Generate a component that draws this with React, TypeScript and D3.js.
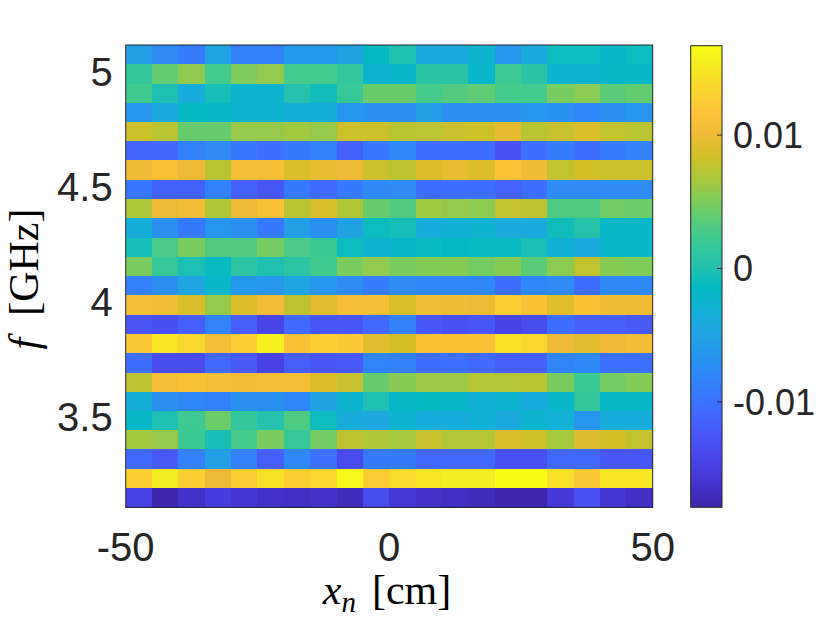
import * as d3 from "d3";

// x positions of the sensor columns (cm) and row frequencies (GHz, top to bottom)
const xCenters = [
  -47.5, -42.5, -37.5, -32.5, -27.5, -22.5, -17.5, -12.5, -7.5, -2.5,
  2.5, 7.5, 12.5, 17.5, 22.5, 27.5, 32.5, 37.5, 42.5, 47.5,
];
const freqs = [
  5.076, 4.992, 4.908, 4.824, 4.74, 4.657, 4.573, 4.489, 4.405, 4.321, 4.237, 4.153,
  4.069, 3.985, 3.901, 3.817, 3.733, 3.649, 3.566, 3.482, 3.398, 3.314, 3.23, 3.146,
];

// values in units of 1e-3, one row per frequency (top row first)
const UNIT = 1e-3;
const values = [
  [-5.5, -7.5, -9, -4.8, -8.5, -8.5, -6, -6, -5, -1.5, 0, -4, -4, -2.5, -6.5, -4, -1, -1, -2, -1],
  [1.5, 4, 5.7, 2.5, 5, 5.8, 2.5, 2.5, 1.5, -2.5, -2, 0.8, 0.8, -2, 2.2, 0.8, -2.5, -2.5, -1.8, -1.8],
  [2.3, 0, -3.8, -0.5, -2.5, -2.5, 0.3, -0.7, 1.8, 4.2, 4.2, 2.6, 3.3, 3.8, 2.6, 2.5, 4.8, 5.5, 3.6, 4],
  [-6.5, -4, -1.5, -2, -2.5, -2.5, -3.5, -3.5, -6.5, -7, -7, -5.5, -7, -7, -7, -6.5, -7, -8, -7, -6.5],
  [8.2, 7.4, 4.1, 4.1, 6, 6, 6.4, 6, 8.2, 8.2, 7.4, 7.5, 8, 8.3, 9.5, 7.4, 8, 8.8, 7.8, 7.4],
  [-11, -11, -8.5, -7.5, -9.5, -10.3, -9.2, -8.7, -11.5, -9.5, -8, -10.3, -10.3, -10.3, -13, -10.3, -9, -10.3, -9, -8.7],
  [10.3, 11.2, 10, 7.4, 10.8, 10.8, 8.8, 9.6, 10, 8.2, 7.6, 9, 9.6, 9, 11.5, 10.3, 7.8, 8.5, 8.2, 8.2],
  [-9.5, -11.5, -11.5, -8.5, -11.5, -12.5, -9.2, -10.7, -9.2, -7.8, -7.5, -10.3, -10.3, -10.3, -11.3, -10.3, -7.5, -7.5, -7.5, -7.5],
  [6.8, 10, 10.5, 7, 10, 11.3, 7.4, 8.8, 7, 4.1, 3.2, 6.3, 6, 5.6, 7.8, 7.6, 3, 3, 4.5, 4.3],
  [-3.5, -7, -9.2, -6.5, -7, -9.2, -5.5, -7, -5, -1, -0.5, -3.8, -3, -2.5, -4, -4, -0.7, 0.5, -1.8, -2],
  [-0.5, 2.8, 4.9, 3.1, 3.1, 4.7, 2.8, 2.1, -1, -2.5, -2, -1.2, -1.7, -1.2, -1.2, -0.3, -3, -4, -2, -2],
  [4.9, 1.7, -0.2, -1.2, 1, 0, 1, 2.3, 4.9, 5.8, 4.9, 5.3, 5.4, 4.7, 5.4, 3.6, 5.6, 7.8, 5.4, 5.1],
  [-8.7, -7, -4.7, -2, -6, -6.3, -4.7, -6.3, -7.5, -9, -7.5, -8, -8, -8, -10.3, -8, -7.5, -10.3, -7.8, -7.8],
  [10.8, 10.5, 8.8, 6, 9, 10.5, 7.6, 9.3, 10.8, 10.8, 8.8, 10.5, 10.3, 10, 12.8, 11.3, 9.2, 11.3, 10.3, 10.3],
  [-12.7, -13.2, -11.7, -8.3, -11.7, -14.3, -10.8, -12.6, -12.6, -10.8, -8.6, -12.6, -13.1, -12.6, -14.5, -13.5, -10.3, -11.7, -11.7, -12.2],
  [12.2, 14.8, 13.6, 10.8, 12.8, 15.6, 11.3, 12.8, 12.2, 9.3, 8.5, 11.3, 11.3, 11.3, 14.3, 13.5, 10, 9.3, 10.2, 10.7],
  [-10.3, -13.5, -13.5, -10.8, -12.2, -14.5, -11.7, -12.6, -12.3, -8.2, -8.6, -10.3, -10, -10.8, -11.7, -11.7, -8.2, -7.8, -10, -10],
  [7.6, 10.8, 11.3, 10.8, 10.5, 10.8, 10.8, 9, 8, 4.1, 5.4, 6.2, 6.2, 7.2, 7.2, 7.4, 4.9, 2.1, 4.7, 5.3],
  [-3.5, -7, -8, -8.7, -7, -7, -8, -5, -2.5, 0, -1.8, -1.3, -2, -3, -2.5, -3.7, -2, 1.5, -1.8, -1.8],
  [-1.8, 0, 2.2, 4.3, 1.5, 0.3, 3, -1, -3.8, -4.5, -2.5, -3.8, -3.8, -3, -4, -2.5, -3.2, -6.5, -3.8, -3.8],
  [6.4, 6, 2.1, -0.4, 2.6, 4.9, 1.7, 4.7, 7.6, 7, 6.6, 8, 7.2, 7.2, 8.8, 8.3, 6.6, 9.1, 8.5, 7.8],
  [-10.8, -12.2, -8.7, -5.5, -8.7, -11.7, -8, -10, -13.5, -9.2, -9.2, -10.8, -10.8, -10.8, -13.1, -13.1, -10.8, -10.8, -12.6, -12.6],
  [12.8, 15.2, 12.8, 10, 12.5, 14.3, 12.8, 13.5, 16.2, 12.5, 13.8, 14.8, 15.2, 15.2, 16.6, 16.6, 14.3, 12.2, 14.8, 14.8],
  [-14.5, -17.7, -16.3, -15, -15.7, -16.3, -16.6, -16.3, -17, -13.5, -15.5, -16.3, -16.6, -17, -17.7, -17.7, -15.5, -13.1, -15.7, -16.6],
];

const xTicks = [-50, 0, 50];
const fTicks = [3.5, 4, 4.5, 5];
const cTicks = [-0.01, 0, 0.01];
const xDomain = [-50, 50];
const fDomain = [3.104, 5.118];
const cDomain = [-17.9, 16.7];

// parula (MATLAB) anchors
const parula = [
  "#3e26a8", "#4332cb", "#4741e5", "#4852f4", "#4563fd", "#3875fe", "#2e87f7", "#2796eb",
  "#20a5e3", "#12b1d6", "#02bac3", "#24c1ae", "#37c897", "#57cc7a", "#81cc59", "#abc739",
  "#d1bf27", "#f0ba36", "#fec338", "#fad62d", "#f5e924", "#f9fb15",
];

const W = 830;
const H = 623;
const plot = { left: 125.7, right: 652.7, top: 45, bottom: 507.3 };
const cbar = { left: 690.7, right: 722, top: 45.7, bottom: 507.3 };
const sans = "'Liberation Sans', Arial, Helvetica, sans-serif";
const serif = "'Liberation Serif', 'Times New Roman', serif";
const ink = "#262626";

export default function App() {
  const x = d3.scaleLinear().domain(xDomain).range([plot.left, plot.right]);
  const y = d3.scaleLinear().domain(fDomain).range([plot.bottom, plot.top]);
  const cy = d3.scaleLinear().domain(cDomain).range([cbar.bottom, cbar.top]);

  const color = d3
    .scaleLinear<string>()
    .domain(parula.map((_, i) => cDomain[0] + (i / (parula.length - 1)) * (cDomain[1] - cDomain[0])))
    .range(parula)
    .interpolate(d3.interpolateRgb)
    .clamp(true);

  const cellW = Math.abs(x(xCenters[1]) - x(xCenters[0]));
  const cellH = Math.abs(y(freqs[freqs.length - 1]) - y(freqs[0])) / (freqs.length - 1);

  return (
    <svg
      width={W}
      height={H}
      style={{ position: "absolute", left: 0, top: 0, background: "#fff" }}
    >
      <defs>
        <linearGradient id="parula-grad" x1="0" y1="1" x2="0" y2="0">
          {parula.map((c, i) => (
            <stop key={i} offset={`${(i / (parula.length - 1)) * 100}%`} stopColor={c} />
          ))}
        </linearGradient>
      </defs>

      {/* heatmap cells */}
      <g shapeRendering="crispEdges">
        {values.map((row, i) =>
          row.map((v, j) => (
            <rect
              key={`${i}-${j}`}
              x={x(xCenters[j]) - cellW / 2}
              y={y(freqs[i]) - cellH / 2}
              width={cellW + 0.5}
              height={cellH + 0.5}
              fill={color(v)}
            />
          )),
        )}
      </g>

      {/* axes box */}
      <rect
        x={plot.left}
        y={plot.top}
        width={plot.right - plot.left}
        height={plot.bottom - plot.top}
        fill="none"
        stroke={ink}
        strokeWidth={1}
      />

      {/* x tick labels */}
      {xTicks.map((t) => (
        <text
          key={t}
          x={x(t)}
          y={561}
          textAnchor="middle"
          fontFamily={sans}
          fontSize={40}
          fill={ink}
        >
          {t < 0 ? `-${Math.abs(t)}` : t}
        </text>
      ))}

      {/* y tick labels */}
      {fTicks.map((t) => (
        <text
          key={t}
          x={plot.left - 13}
          y={y(t)}
          dy="0.36em"
          textAnchor="end"
          fontFamily={sans}
          fontSize={40}
          fill={ink}
        >
          {t}
        </text>
      ))}

      {/* axis labels */}
      <text
        x={387}
        y={604}
        textAnchor="middle"
        fontFamily={serif}
        fontSize={42}
        fill="#000"
      >
        <tspan fontStyle="italic">x</tspan>
        <tspan fontStyle="italic" fontSize={29} dy={8}>n</tspan>
        <tspan dx={16} dy={-8}>[cm]</tspan>
      </text>
      <text
        transform={`translate(38,279) rotate(-90)`}
        textAnchor="middle"
        fontFamily={serif}
        fontSize={42}
        fill="#000"
      >
        <tspan fontStyle="italic">f</tspan>
        <tspan dx={22}>[GHz]</tspan>
      </text>

      {/* colorbar */}
      <rect
        x={cbar.left}
        y={cbar.top}
        width={cbar.right - cbar.left}
        height={cbar.bottom - cbar.top}
        fill="url(#parula-grad)"
        stroke={ink}
        strokeWidth={1}
      />
      {cTicks.map((t) => (
        <g key={t}>
          <line
            x1={cbar.right - 5}
            x2={cbar.right}
            y1={cy(t / UNIT)}
            y2={cy(t / UNIT)}
            stroke={ink}
            strokeWidth={1}
          />
          <text
            x={733}
            y={cy(t / UNIT)}
            dy="0.36em"
            fontFamily={sans}
            fontSize={36}
            fill={ink}
          >
            {t}
          </text>
        </g>
      ))}
    </svg>
  );
}
